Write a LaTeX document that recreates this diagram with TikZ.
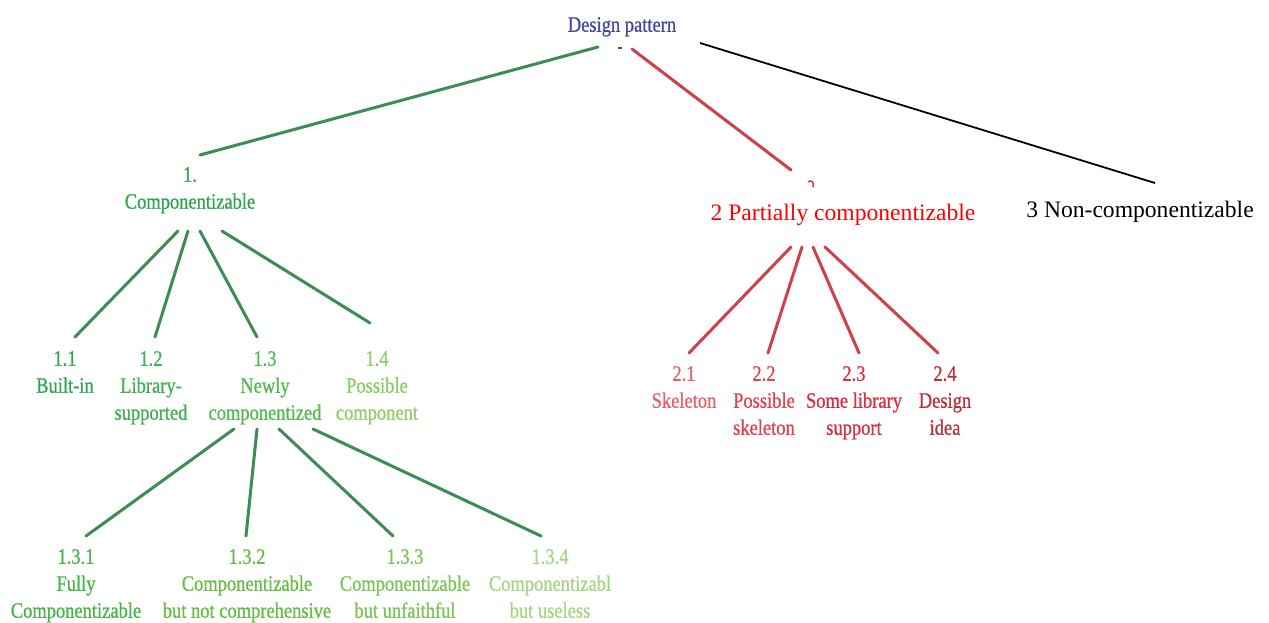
\documentclass[tikz,border=0pt]{standalone}
\usepackage{fontspec}
\setmainfont{Liberation Serif}
\newfontfamily\cond[FakeStretch=0.84,FakeBold=0.7]{Liberation Serif}
\definecolor{dpblue}{RGB}{70,70,165}
\definecolor{gA}{RGB}{45,165,80}
\definecolor{gB}{RGB}{65,175,80}
\definecolor{gC}{RGB}{85,185,80}
\definecolor{gD}{RGB}{140,205,100}
\definecolor{gE}{RGB}{70,180,70}
\definecolor{gF}{RGB}{100,190,70}
\definecolor{gG}{RGB}{120,198,85}
\definecolor{gH}{RGB}{165,215,130}
\definecolor{gline}{RGB}{60,140,85}
\definecolor{rline}{RGB}{205,65,75}
\definecolor{rA}{RGB}{235,95,105}
\definecolor{rB}{RGB}{225,65,80}
\definecolor{rC}{RGB}{220,45,65}
\definecolor{rD}{RGB}{190,45,55}
\tikzset{
  lbl/.style={anchor=north, inner sep=0pt, align=center,
    font=\cond\fontsize{22}{27}\selectfont},
  plain/.style={anchor=north, inner sep=0pt,
    font=\fontsize{23.6}{28}\selectfont},
  gedge/.style={draw=gline, line width=3pt, line cap=round},
  redge/.style={draw=rline, line width=3pt, line cap=round},
  bedge/.style={draw=black, line width=1.8pt},
}
\begin{document}
\begin{tikzpicture}[x=1pt,y=-1pt]
\useasboundingbox[fill=white] (0,0) rectangle (1269,623);

% nodes
\node[lbl, text=dpblue] (dp) at (622,17) {Design pattern};
\node[lbl, text=gA] (c1) at (190,167) {1.\\Componentizable};
\node[plain, text=red] (c2) at (843,204) {2 Partially componentizable};
\node[plain, text=black] (c3) at (1140,201) {3 Non-componentizable};

\node[lbl, text=gA] (c11) at (65,351) {1.1\\Built-in};
\node[lbl, text=gB] (c12) at (151,351) {1.2\\Library-\\supported};
\node[lbl, text=gC] (c13) at (265,351) {1.3\\Newly\\componentized};
\node[lbl, text=gD] (c14) at (377,351) {1.4\\Possible\\component};

\node[lbl, text=rA] (c21) at (684,366) {2.1\\Skeleton};
\node[lbl, text=rB] (c22) at (764,366) {2.2\\Possible\\skeleton};
\node[lbl, text=rC] (c23) at (854,366) {2.3\\Some library\\support};
\node[lbl, text=rD] (c24) at (945,366) {2.4\\Design\\idea};

\node[lbl, text=gE] (c131) at (76,549) {1.3.1\\Fully\\Componentizable};
\node[lbl, text=gF] (c132) at (247,549) {1.3.2\\Componentizable\\but not comprehensive};
\node[lbl, text=gG] (c133) at (405,549) {1.3.3\\Componentizable\\but unfaithful};
\node[lbl, text=gH] (c134) at (550,549) {1.3.4\\Componentizabl\\but useless};

% connector end points
\coordinate (dpL) at (598,47);
\coordinate (dpM) at (632,49);
\coordinate (dpR) at (700,43);
\coordinate (c1T) at (200,155);
\coordinate (c2T) at (791,170);
\coordinate (c3T) at (1155,183);

\coordinate (c1a) at (178,231);
\coordinate (c1b) at (188,231);
\coordinate (c1c) at (200,231);
\coordinate (c1d) at (222,231);
\coordinate (c11T) at (75,337);
\coordinate (c12T) at (155,337);
\coordinate (c13T) at (257,337);
\coordinate (c14T) at (370,323);

\coordinate (c2a) at (791,247);
\coordinate (c2b) at (802,247);
\coordinate (c2c) at (813,247);
\coordinate (c2d) at (825,247);
\coordinate (c21T) at (689,353);
\coordinate (c22T) at (768,353);
\coordinate (c23T) at (859,353);
\coordinate (c24T) at (938,353);

\coordinate (c13a) at (234,429);
\coordinate (c13b) at (257,429);
\coordinate (c13c) at (279,429);
\coordinate (c13d) at (313,429);
\coordinate (c131T) at (86,536);
\coordinate (c132T) at (246,536);
\coordinate (c133T) at (393,536);
\coordinate (c134T) at (541,536);

% connectors
\draw[gedge] (dpL) -- (c1T);
\draw[redge] (dpM) -- (c2T);
\draw[bedge] (dpR) -- (c3T);

\draw[gedge] (c1a) -- (c11T);
\draw[gedge] (c1b) -- (c12T);
\draw[gedge] (c1c) -- (c13T);
\draw[gedge] (c1d) -- (c14T);

\draw[redge] (c2a) -- (c21T);
\draw[redge] (c2b) -- (c22T);
\draw[redge] (c2c) -- (c23T);
\draw[redge] (c2d) -- (c24T);

\draw[gedge] (c13a) -- (c131T);
\draw[gedge] (c13b) -- (c132T);
\draw[gedge] (c13c) -- (c133T);
\draw[gedge] (c13d) -- (c134T);

% small marks
\draw[dpblue, line width=1.5pt] (618,48) -- (622,48);
\draw[rline, line width=1.6pt] (808,182) .. controls (811,179) and (815,183) .. (813,187);
\end{tikzpicture}
\end{document}
